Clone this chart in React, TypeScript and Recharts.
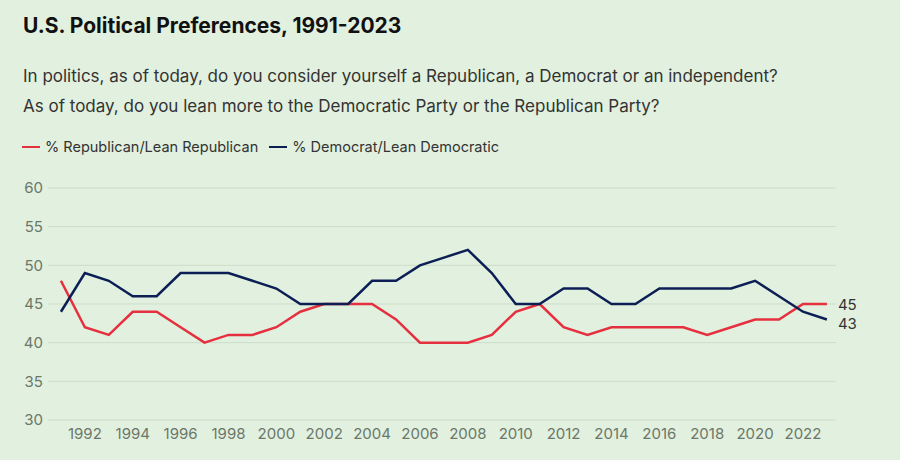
import { LineChart, Line, XAxis, YAxis, CartesianGrid, LabelList } from "recharts";

const years = [
  1991, 1992, 1993, 1994, 1995, 1996, 1997, 1998, 1999, 2000, 2001,
  2002, 2003, 2004, 2005, 2006, 2007, 2008, 2009, 2010, 2011, 2012,
  2013, 2014, 2015, 2016, 2017, 2018, 2019, 2020, 2021, 2022, 2023,
];
const republican = [
  48, 42, 41, 44, 44, 42, 40, 41, 41, 42, 44,
  45, 45, 45, 43, 40, 40, 40, 41, 44, 45, 42,
  41, 42, 42, 42, 42, 41, 42, 43, 43, 45, 45,
];
const democrat = [
  44, 49, 48, 46, 46, 49, 49, 49, 48, 47, 45,
  45, 45, 48, 48, 50, 51, 52, 49, 45, 45, 47,
  47, 45, 45, 47, 47, 47, 47, 48, 46, 44, 43,
];
const xTicks = [1992, 1994, 1996, 1998, 2000, 2002, 2004, 2006, 2008, 2010, 2012, 2014, 2016, 2018, 2020, 2022];
const yTicks = [30, 35, 40, 45, 50, 55, 60];

const RED = "#e5303f";
const NAVY = "#0c1f55";
const BG = "#e2f0df";
const FONT = "Inter, 'Noto Sans', sans-serif";

const data = years.map((y, i) => ({ year: y, rep: republican[i], dem: democrat[i] }));
const last = years.length - 1;

const endLabel = (dy: number) => (props: any) => {
  if (props.index !== last) return null;
  return (
    <text x={props.x + 11} y={props.y + dy} dominantBaseline="central" fontSize={15} fill="#333" fontFamily={FONT}>
      {props.value}
    </text>
  );
};

export default function App() {
  return (
    <div style={{ position: "fixed", left: 0, top: 0, width: 900, height: 460, background: BG, fontFamily: FONT, overflow: "hidden" }}>
      <div style={{ position: "absolute", left: 23, top: 13, fontSize: 21, fontWeight: 700, color: "#111" }}>
        U.S. Political Preferences, 1991-2023
      </div>
      <div style={{ position: "absolute", left: 23, top: 61, fontSize: 17, color: "#333", lineHeight: "30px" }}>
        <div>In politics, as of today, do you consider yourself a Republican, a Democrat or an independent?</div>
        <div>As of today, do you lean more to the Democratic Party or the Republican Party?</div>
      </div>
      <div style={{ position: "absolute", left: 22, top: 137, fontSize: 14.5, color: "#333", display: "flex", alignItems: "center", lineHeight: "20px" }}>
        <span style={{ width: 18, height: 2, background: RED, marginRight: 5 }} />
        <span>% Republican/Lean Republican</span>
        <span style={{ width: 18, height: 2, background: NAVY, marginLeft: 11, marginRight: 5 }} />
        <span>% Democrat/Lean Democratic</span>
      </div>
      <div style={{ position: "absolute", left: 0, top: 0 }}>
        <LineChart width={900} height={460} data={data} margin={{ top: 188, right: 64, bottom: 10, left: 0 }}>
          <CartesianGrid vertical={false} stroke="#cddbca" strokeWidth={1} />
          <XAxis
            dataKey="year"
            type="number"
            domain={[1990.46, 2023.38]}
            ticks={xTicks}
            height={30}
            axisLine={false}
            tickLine={false}
            tickSize={0}
            tickMargin={8}
            tick={{ fontSize: 15, fill: "#6b7769", fontFamily: FONT }}
            allowDataOverflow
          />
          <YAxis
            domain={[30, 60]}
            ticks={yTicks}
            width={48}
            axisLine={false}
            tickLine={false}
            tickSize={0}
            tickMargin={5}
            tick={{ fontSize: 15, fill: "#6b7769", fontFamily: FONT }}
          />
          <Line dataKey="rep" stroke={RED} strokeWidth={2.5} dot={false} isAnimationActive={false} type="linear">
            <LabelList dataKey="rep" content={endLabel(0)} />
          </Line>
          <Line dataKey="dem" stroke={NAVY} strokeWidth={2.5} dot={false} isAnimationActive={false} type="linear">
            <LabelList dataKey="dem" content={endLabel(4)} />
          </Line>
        </LineChart>
      </div>
    </div>
  );
}
